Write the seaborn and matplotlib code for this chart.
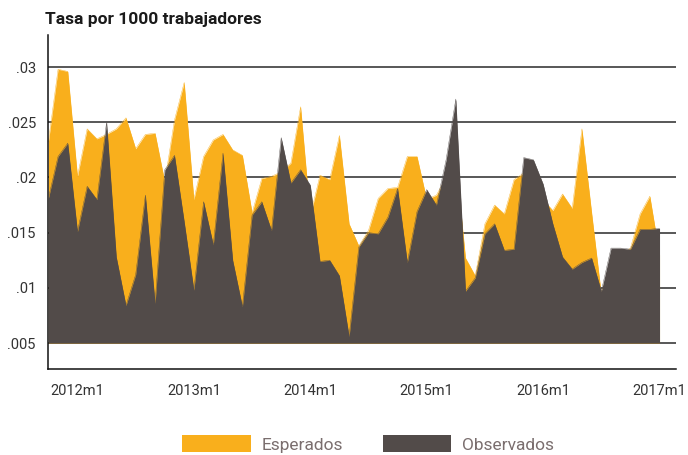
import numpy as np
import pandas as pd
import matplotlib
matplotlib.use("Agg")
import matplotlib.pyplot as plt
import seaborn as sns
from matplotlib.patches import Patch

# ---- data (monthly, 2011m10 .. 2017m1) ----
esperados = [0.0232, 0.0298, 0.0296, 0.0201, 0.0244, 0.0235, 0.0239, 0.0244, 0.0254, 0.0226,
             0.0239, 0.0240, 0.0196, 0.0252, 0.0286, 0.0180, 0.0219, 0.0234, 0.0239, 0.0225,
             0.0220, 0.0168, 0.0199, 0.0201, 0.0205, 0.0213, 0.0264, 0.0165, 0.0202, 0.0198,
             0.0238, 0.0158, 0.0138, 0.0152, 0.0181, 0.0190, 0.0191, 0.0219, 0.0219, 0.0180,
             0.0184, 0.0200, 0.0215, 0.0127, 0.0111, 0.0158, 0.0175, 0.0167, 0.0198, 0.0204,
             0.0205, 0.0180, 0.0170, 0.0185, 0.0172, 0.0244, 0.0168, 0.0094, 0.0125, 0.0130,
             0.0136, 0.0167, 0.0183, 0.0130]
observados = [0.0181, 0.0219, 0.0231, 0.0151, 0.0192, 0.0180, 0.0250, 0.0128, 0.0084, 0.0112,
              0.0184, 0.0086, 0.0207, 0.0220, 0.0160, 0.0098, 0.0178, 0.0139, 0.0222, 0.0125,
              0.0083, 0.0166, 0.0178, 0.0152, 0.0236, 0.0195, 0.0207, 0.0193, 0.0124, 0.0125,
              0.0111, 0.0056, 0.0137, 0.0150, 0.0149, 0.0164, 0.0190, 0.0123, 0.0169, 0.0189,
              0.0175, 0.0216, 0.0271, 0.0097, 0.0109, 0.0149, 0.0158, 0.0134, 0.0135, 0.0218,
              0.0216, 0.0194, 0.0158, 0.0128, 0.0117, 0.0123, 0.0127, 0.0097, 0.0136, 0.0136,
              0.0135, 0.0153, 0.0153, 0.0154]
months = pd.period_range("2011-10", "2017-01", freq="M")
y_ticks = [0.005, 0.01, 0.015, 0.02, 0.025, 0.03]
y_labels = [".005", ".01", ".015", ".02", ".025", ".03"]
x_tick_labels = ["2012m1", "2013m1", "2014m1", "2015m1", "2016m1", "2017m1"]

# month index relative to 2012m1
t = np.array([(p.year - 2012) * 12 + (p.month - 1) for p in months])
df = pd.DataFrame({"t": t, "Esperados": esperados, "Observados": observados})

sns.set_theme(style="white")
plt.rcParams["font.family"] = ["Roboto", "DejaVu Sans"]

YEL = "#F9AF1C"
DARK = "#524B49"
BASE = 0.005

fig = plt.figure(figsize=(6.88, 4.55), dpi=100)
ax = fig.add_axes([0.0703, 0.189, 0.9123, 0.734])

for yv in y_ticks:
    ax.axhline(yv, color="#2a2a2a", lw=1.1, zorder=0.5)

sns.lineplot(data=df, x="t", y="Esperados", ax=ax, color=YEL, lw=0.3, zorder=2)
ax.fill_between(df["t"], BASE, df["Esperados"], color=YEL, lw=0, zorder=2)
sns.lineplot(data=df, x="t", y="Observados", ax=ax, color=DARK, lw=0.3, zorder=3)
ax.fill_between(df["t"], BASE, df["Observados"], color=DARK, lw=0, zorder=3)

ax.set_xlim(-3, 61.7)
ax.set_ylim(0.00265, 0.0329)
ax.set_xticks([0, 12, 24, 36, 48, 60])
ax.set_xticklabels(x_tick_labels)
ax.set_yticks(y_ticks)
ax.set_yticklabels(y_labels)
ax.set_xlabel("")
ax.set_ylabel("")

for s in ["top", "right"]:
    ax.spines[s].set_visible(False)
for s in ["left", "bottom"]:
    ax.spines[s].set_color("#111111")
    ax.spines[s].set_linewidth(1.1)
ax.tick_params(axis="both", which="both", direction="out", length=5, width=1.0,
               color="#111111", labelsize=10.5, labelcolor="#333333", pad=4)
ax.tick_params(axis="x", pad=6)

fig.text(0.065, 0.958, "Tasa por 1000 trabajadores", fontsize=12.5, fontweight="bold",
         color="#1a1a1a", ha="left", va="center")

handles = [Patch(facecolor=YEL, edgecolor="none", label="Esperados"),
           Patch(facecolor=DARK, edgecolor="none", label="Observados")]
leg = fig.legend(handles=handles, loc="center", bbox_to_anchor=(0.535, 0.0245),
                 ncol=2, frameon=False, fontsize=12.5, handlelength=3.95, handleheight=1.15,
                 columnspacing=2.3, handletextpad=0.6)
for txt in leg.get_texts():
    txt.set_color("#7a6e6e")

fig.savefig("out.png", dpi=100)
